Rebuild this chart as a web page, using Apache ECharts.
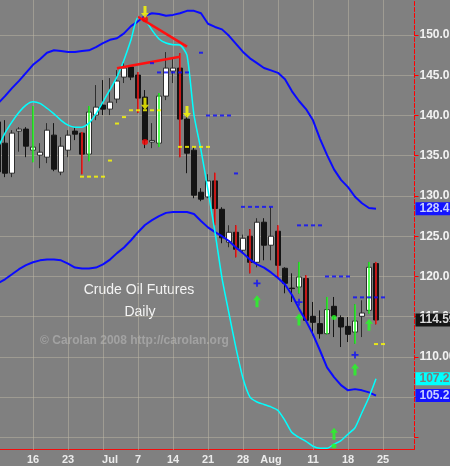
<!DOCTYPE html>
<html>
<head>
<meta charset="utf-8">
<script src="https://cdn.jsdelivr.net/npm/echarts@6/dist/echarts.min.js"></script>
<style>
  html, body { margin: 0; padding: 0; background: #808080; }
  #chart { width: 450px; height: 466px; }
</style>
</head>
<body>
<div id="chart"></div>
<script>
// trading days (weekdays) shown on the x axis
const days = ['6/9','6/10','6/11','6/12','6/13','6/16','6/17','6/18','6/19','6/20',
  '6/23','6/24','6/25','6/26','6/27','6/30','7/1','7/2','7/3','7/4',
  '7/7','7/8','7/9','7/10','7/11','7/14','7/15','7/16','7/17','7/18',
  '7/21','7/22','7/23','7/24','7/25','7/28','7/29','7/30','7/31','8/1',
  '8/4','8/5','8/6','8/7','8/8','8/11','8/12','8/13','8/14','8/15',
  '8/18','8/19','8/20','8/21','8/22','8/25','8/26','8/27','8/28','8/29'];
const tickDays = ['6/16','6/23','7/1','7/7','7/14','7/21','7/28','8/1','8/11','8/18','8/25'];
const tickTexts = ['16','23','Jul','7','14','21','28','Aug','11','18','25'];
const gridDays = ['6/16','6/23','6/30','7/7','7/14','7/21','7/28','8/4','8/11','8/18','8/25'];

// [open, close, low, high]
const candles = [
  [139.2, 133.0, 132.3, 139.5], [136.56, 132.83, 132.34, 139.42], [132.83, 137.81, 132.34, 138.18],
  [138.06, 138.31, 135.5, 138.55], [138.31, 136.19, 134.82, 138.55], [135.69, 136.07, 134.2, 141.17],
  [135.07, 135.44, 133.45, 136.56], [134.82, 138.18, 134.08, 139.05], [137.56, 133.33, 133.08, 139.05],
  [132.96, 136.19, 132.58, 137.31], [135.69, 137.56, 134.82, 138.18], [138.06, 137.68, 136.94, 138.55],
  [137.81, 135.2, 132.71, 137.95], [135.2, 140.42, 134.33, 141.17], [140.05, 141.04, 139.42, 143.78],
  [141.29, 140.79, 140.05, 144.4], [140.79, 141.66, 140.05, 144.65], [142.04, 144.28, 141.54, 145.64],
  [144.77, 145.89, 144.03, 146.51], [146.02, 144.77, 144.4, 146.27], [145.02, 142.16, 140.3, 145.39],
  [142.29, 136.94, 135.94, 143.16], [136.7, 136.9, 135.94, 139.05], [136.56, 142.41, 136.07, 142.78],
  [142.41, 145.89, 141.91, 147.88], [145.52, 145.89, 144.03, 147.26], [145.89, 139.55, 134.82, 147.76],
  [139.55, 135.32, 132.83, 140.05], [135.69, 130.1, 129.72, 136.07], [130.47, 129.6, 129.35, 130.97],
  [129.88, 131.87, 129.72, 132.7], [131.87, 128.45, 126.37, 132.88], [128.35, 124.8, 124.13, 128.6],
  [124.25, 125.49, 123.63, 126.36], [125.49, 123.38, 122.38, 126.36], [123.26, 124.75, 122.88, 125.2],
  [125.0, 121.76, 120.39, 125.87], [121.76, 126.74, 121.14, 127.24], [126.74, 123.88, 122.01, 127.24],
  [123.88, 125.0, 122.01, 128.6], [125.62, 121.39, 119.8, 126.36], [121.02, 119.15, 117.91, 121.14],
  [118.55, 118.49, 116.83, 120.39], [118.69, 119.93, 117.88, 121.81], [119.74, 114.55, 114.46, 120.16],
  [115.05, 114.3, 112.68, 116.83], [114.14, 112.89, 112.27, 115.79], [112.89, 115.88, 112.81, 117.45],
  [116.29, 115.05, 112.47, 117.45], [114.88, 113.72, 111.23, 115.17], [113.8, 112.81, 111.85, 114.96],
  [113.09, 114.46, 111.65, 116.54], [115.05, 115.46, 112.47, 117.04], [115.79, 121.14, 115.38, 121.81],
  [121.6, 114.59, 114.05, 121.81]
];

const upperBand = [141.5, 142.4, 143.4, 144.3, 145.3, 146.3, 147.0, 147.8, 148.1, 148.0,
  147.9, 147.9, 148.0, 148.1, 148.5, 149.0, 149.4, 149.6, 150.2, 151.1,
  151.7, 152.4, 152.7, 152.6, 152.4, 152.5, 152.7, 153.0, 153.0, 152.7,
  151.4, 151.0, 150.7, 149.9, 148.9, 147.9, 147.1, 146.5, 145.9, 145.6,
  145.3, 144.5, 143.0, 141.8, 140.8, 139.4, 137.1, 135.1, 133.3, 132.0,
  131.1, 129.9, 129.1, 128.5, 128.41];
const lowerBand = [119.15, 119.65, 120.27, 120.9, 121.4, 121.76, 122.0, 122.1, 122.1, 122.0,
  121.6, 121.1, 121.0, 121.0, 121.1, 121.5, 122.1, 122.9, 123.6, 124.5,
  125.5, 126.4, 127.0, 127.5, 127.9, 128.0, 128.0, 128.0, 127.75, 126.9,
  126.1, 125.5, 125.0, 124.4, 123.6, 122.9, 122.1, 121.5, 121.1, 120.5,
  119.8, 119.0, 117.7, 116.0, 114.5, 112.8, 110.8, 108.7, 107.5, 106.5,
  105.85, 106.0, 105.85, 105.6, 105.2];
const cyanLine = [136.0, 137.8, 139.2, 140.4, 141.3, 141.7, 141.5, 140.9, 140.2, 139.4,
  138.8, 138.55, 138.55, 139.05, 140.2, 141.7, 143.2, 144.8, 146.9, 149.4,
  152.2, 151.9, 150.6, 149.5, 149.0, 148.8, 148.75, 147.5, 140.05, 135.7,
  130.7, 125.5, 119.8, 115.4, 111.1, 107.35, 105.0, 104.4, 104.1, 103.8,
  103.35, 102.1, 100.6, 100.0, 99.5, 98.9, 98.65, 98.65, 99.15, 99.6,
  100.4, 101.2, 103.1, 105.0, 107.28];

const redWickDays = ['6/25','7/7','7/15','7/22','7/25','7/29','8/4','8/8','8/22'];
const greenWickDays = ['6/16','6/26','7/10','8/7','8/13','8/19','8/21'];

const yellowStops = [['6/25',132.4],['6/26',132.4],['6/27',132.4],['6/30',132.4],['7/1',134.4],
  ['7/2',139.0],['7/3',139.8],['7/4',140.65],['7/7',140.65],['7/8',140.65],['7/9',140.65],
  ['7/10',140.65],['7/15',136.1],['7/16',136.1],['7/17',136.1],['7/18',136.1],['7/21',136.1],
  ['8/22',111.6],['8/25',111.6]];
const blueStops = [['7/9',146.5],['7/10',145.35],['7/11',145.35],['7/14',145.35],['7/15',145.35],
  ['7/16',145.35],['7/18',147.8],['7/21',140.0],['7/22',140.0],['7/23',140.0],['7/24',140.0],
  ['7/25',132.8],['7/28',128.65],['7/29',128.65],['7/30',128.65],['7/31',128.65],['8/1',128.65],
  ['8/7',126.35],['8/8',126.35],['8/11',126.35],['8/12',126.35],['8/13',120.0],['8/14',120.0],
  ['8/15',120.0],['8/18',120.0],['8/19',117.4],['8/20',117.4],['8/21',117.4],['8/22',117.4],
  ['8/25',117.4]];

const greenArrows = [['7/30',117.66],['8/7',115.4],['8/14',101.2],['8/19',109.2],['8/21',114.75]];
const blueMarks = [['7/30',119.15],['8/7',116.8],['8/19',110.25]];
const yellowArrows = [['7/8',152.1],['7/8',140.7],['7/16',139.7]];
const redDots = [['7/8',136.7],['7/8',151.95]];
const greenDots = [['8/14',114.9],['8/14',98.95]];
const trendA = [['7/7',152.27],['7/16',148.55]];
const trendB = [['7/2',145.86],['7/15',147.3]];

const FONT = "'Liberation Sans', Arial, sans-serif";
const upArrow = 'path://M4,0 L8,5 L5.5,5 L5.5,12 L2.5,12 L2.5,5 L0,5 Z';
const downArrow = 'path://M2.5,0 L5.5,0 L5.5,7 L8,7 L4,12 L0,7 L2.5,7 Z';
const plusMark = 'path://M3,0 L5,0 L5,3 L8,3 L8,5 L5,5 L5,8 L3,8 L3,5 L0,5 L0,3 L3,3 Z';

// price tag on the right axis
function tag(value, bg, fg) {
  return {
    silent: true, symbol: 'none', animation: false, z: 6,
    lineStyle: { color: 'rgba(0,0,0,0)', width: 1, opacity: 1 },
    data: [{ yAxis: value }],
    label: {
      show: true, position: 'end', distance: 1, opacity: 1,
      formatter: p => p.value.toFixed(2),
      color: fg, backgroundColor: bg,
      fontSize: 12, fontWeight: 'bold', fontFamily: FONT,
      padding: [1, 6, 0, 4], lineHeight: 12
    }
  };
}

function wickSeries(list, color) {
  return {
    type: 'custom', z: 3, silent: true,
    data: list.map(d => { const c = candles[days.indexOf(d)]; return [d, c[2], c[3]]; }),
    encode: { x: 0, y: [1, 2] },
    renderItem: (params, api) => {
      const lo = api.coord([api.value(0), api.value(1)]);
      const hi = api.coord([api.value(0), api.value(2)]);
      return { type: 'line', shape: { x1: lo[0], y1: lo[1], x2: hi[0], y2: hi[1] },
        style: { stroke: color, lineWidth: 1.5 } };
    }
  };
}

const isTick = (i, v) => tickDays.includes(v);

const chart = echarts.init(document.getElementById('chart'));
chart.setOption({
  animation: false,
  backgroundColor: '#808080',
  grid: { left: -5.5, top: 0, width: 420, height: 449.5, containLabel: false, outerBoundsMode: 'none' },
  xAxis: {
    type: 'category', data: days, boundaryGap: true,
    axisLine: { lineStyle: { color: '#ff0000', type: 'dotted' } },
    axisTick: { alignWithLabel: true, length: 4, interval: isTick, lineStyle: { color: '#ff0000' } },
    axisLabel: {
      interval: isTick, formatter: v => tickTexts[tickDays.indexOf(v)],
      color: '#ececec', fontSize: 11, fontWeight: 'bold', fontFamily: FONT, margin: 5
    },
    splitLine: { show: false }
  },
  yAxis: {
    type: 'value', position: 'right', min: 98.5, max: 154.35, splitNumber: 10,
    axisLine: { show: true, lineStyle: { color: '#ff0000', type: 'dashed' } },
    axisTick: { show: true, length: 4, lineStyle: { color: '#ff0000' } },
    axisLabel: {
      color: '#f2f2f2', fontSize: 12, fontWeight: 'bold', fontFamily: FONT, margin: 5,
      showMinLabel: false, showMaxLabel: false,
      formatter: v => (Math.abs(v % 5) < 1e-6 && v > 100) ? v.toFixed(2) : ''
    },
    splitLine: { show: true, showMinLine: false, showMaxLine: false,
      lineStyle: { color: '#bdb7a5', type: 'dotted' } }
  },
  graphic: [
    { type: 'text', silent: true, style: { text: 'Crude Oil Futures', x: 139, y: 290.5,
      fill: '#f4f4f4', font: '14px ' + FONT, align: 'center', verticalAlign: 'middle' } },
    { type: 'text', silent: true, style: { text: 'Daily', x: 140, y: 312.5,
      fill: '#f4f4f4', font: '14px ' + FONT, align: 'center', verticalAlign: 'middle' } },
    { type: 'text', silent: true, style: { text: '\u00a9 Carolan 2008 http://carolan.org', x: 134.5, y: 341,
      fill: '#a2a2a2', font: 'bold 12px ' + FONT, align: 'center', verticalAlign: 'middle' } }
  ],
  series: [
    {
      // weekly vertical grid lines
      type: 'line', data: [], silent: true,
      markLine: {
        silent: true, symbol: 'none', animation: false, z: 1,
        label: { show: false },
        lineStyle: { color: '#bdb7a5', type: 'dotted', width: 1 },
        data: gridDays.map(d => ({ xAxis: d }))
      }
    },
    {
      type: 'candlestick', data: candles, barWidth: 5, clip: false, z: 2, silent: true,
      itemStyle: { color: '#ffffff', color0: '#141414', borderColor: '#2e2e2e', borderColor0: '#141414', borderWidth: 1 },
      markLine: tag(candles[candles.length - 1][1], '#151515', '#dcdcdc')
    },
    wickSeries(redWickDays, '#ff1a1a'),
    wickSeries(greenWickDays, '#22ff22'),
    {
      type: 'line', data: upperBand, showSymbol: false, z: 4, clip: false, silent: true,
      lineStyle: { color: '#0a0aff', width: 2 },
      markLine: tag(upperBand[upperBand.length - 1], '#1414ff', '#c8d0ff')
    },
    {
      type: 'line', data: lowerBand, showSymbol: false, z: 4, clip: false, silent: true,
      lineStyle: { color: '#0a0aff', width: 2 },
      markLine: tag(lowerBand[lowerBand.length - 1], '#1414ff', '#c8d0ff')
    },
    {
      type: 'line', data: cyanLine, showSymbol: false, z: 4, clip: false, silent: true, smooth: 0.2,
      lineStyle: { color: '#00ffff', width: 1.5 },
      markLine: tag(cyanLine[cyanLine.length - 1], '#00ffff', '#7a7a7a')
    },
    { type: 'line', data: trendA, showSymbol: false, z: 5, silent: true, lineStyle: { color: '#ff1010', width: 2.5 } },
    { type: 'line', data: trendB, showSymbol: false, z: 5, silent: true, lineStyle: { color: '#ff1010', width: 2.5 } },
    { type: 'scatter', data: yellowStops, symbol: 'rect', symbolSize: [4, 2], z: 5, silent: true,
      itemStyle: { color: '#ffff00' } },
    { type: 'scatter', data: blueStops, symbol: 'rect', symbolSize: [4, 2], z: 5, silent: true,
      itemStyle: { color: '#0a0aff' } },
    { type: 'scatter', data: redDots, symbol: 'circle', symbolSize: 6, z: 6, silent: true,
      itemStyle: { color: '#ff0000' } },
    { type: 'scatter', data: greenDots, symbol: 'circle', symbolSize: 5, z: 6, silent: true,
      itemStyle: { color: '#22ff22' } },
    { type: 'scatter', data: greenArrows, symbol: upArrow, symbolSize: [8, 12], symbolOffset: [0, 6], z: 7, silent: true,
      itemStyle: { color: '#22ff22' } },
    { type: 'scatter', data: yellowArrows, symbol: downArrow, symbolSize: [8, 12], symbolOffset: [0, -6], z: 7, silent: true,
      itemStyle: { color: '#ffff00' } },
    { type: 'scatter', data: blueMarks, symbol: plusMark, symbolSize: 7, z: 7, silent: true,
      itemStyle: { color: '#0a0aff' } }
  ]
});
</script>
</body>
</html>
